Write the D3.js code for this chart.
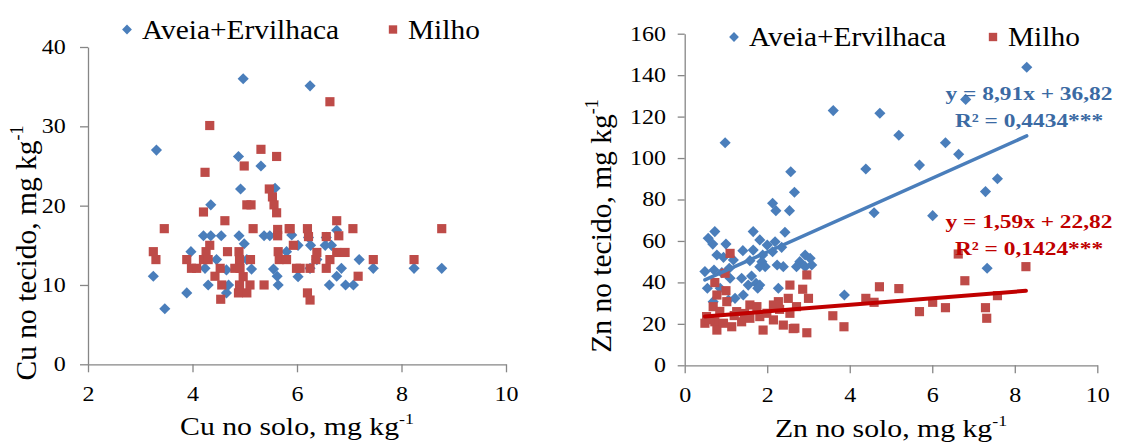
<!DOCTYPE html>
<html>
<head>
<meta charset="utf-8">
<script src="https://cdn.jsdelivr.net/npm/d3@7"></script>
<style>
  body { margin: 0; background: #fff; }
  svg text { font-family: "Liberation Serif", "Times New Roman", serif; }
</style>
</head>
<body>
<svg id="chart" width="1121" height="444"></svg>
<script>
// series names
var seriesNames = ["Aveia+Ervilhaca", "Milho"];

// Cu: [soil, tissue]
var cuAveia = [[3.31,27.0],[3.25,11.1],[3.47,7.0],[3.89,9.0],[3.97,14.2],[4.21,16.2],[4.35,16.2],[4.55,16.2],
  [4.24,12.1],[4.3,10.0],[4.46,13.2],[4.65,11.9],[4.69,10.0],[4.65,9.0],[4.35,20.1],[4.97,36.0],[4.88,26.2],
  [5.31,25.0],[4.92,22.1],[5.58,22.2],[4.89,16.2],[4.99,15.2],[5.04,13.2],[5.13,12.0],[5.37,16.2],[5.48,16.2],
  [5.55,12.0],[5.62,11.1],[5.64,10.0],[5.8,14.2],[5.9,16.3],[6.02,11.05],[6.02,15.0],[6.22,16.0],[6.25,35.1],
  [6.26,15.0],[6.56,16.0],[6.54,15.0],[6.66,15.0],[6.76,16.9],[6.38,13.2],[7.19,13.2],[6.85,12.1],[7.46,12.1],
  [8.24,12.1],[8.77,12.1],[6.76,11.1],[6.62,10.0],[6.93,10.0],[7.08,10.0],[6.25,12.1]];
var cuMilho = [[3.25,14.2],[3.3,13.2],[3.46,17.1],[3.89,13.2],[3.98,12.1],[4.08,12.1],[4.21,13.2],[4.26,14.2],
  [4.3,13.2],[4.33,15.0],[4.21,19.2],[4.24,24.2],[4.33,30.1],[4.43,11.1],[4.53,12.1],[4.56,10.0],[4.54,8.2],
  [4.62,18.1],[4.67,14.2],[4.81,12.1],[4.89,14.2],[4.9,13.2],[4.91,12.1],[4.97,11.05],[4.9,10.0],[4.88,9.0],
  [5.04,9.0],[5.1,10.0],[5.11,13.2],[4.99,25.0],[5.04,20.1],[5.12,20.1],[5.16,17.1],[5.31,27.1],[5.37,10.0],
  [5.47,22.1],[5.53,21.1],[5.56,20.1],[5.61,19.1],[5.61,26.2],[5.63,17.0],[5.63,16.2],[5.64,14.2],[5.66,13.2],
  [5.8,13.2],[5.85,17.1],[5.93,15.0],[5.99,12.1],[5.87,17.1],[6.2,17.1],[6.22,16.1],[6.56,16.1],[6.8,16.2],
  [6.76,18.1],[7.07,17.1],[8.77,17.1],[6.38,14.1],[6.76,14.1],[6.92,14.1],[6.36,13.2],[6.63,13.2],[7.46,13.2],
  [8.24,13.2],[6.06,12.1],[6.25,12.1],[6.56,12.1],[7.17,11.1],[6.2,9.0],[6.25,8.1],[6.63,33.1]];

// Zn: [soil, tissue]
var znAveia = [[0.98,107.4],[3.6,122.9],[4.73,121.6],[5.19,111.0],[6.32,107.4],[6.64,101.8],[4.39,94.7],
  [5.69,96.6],[7.58,90.0],[7.29,83.8],[4.59,73.6],[6.01,72.2],[7.33,46.8],[3.87,33.9],[8.29,143.8],[6.81,128.3],
  [2.57,93.4],[2.66,83.5],[2.13,78.2],[2.21,74.6],[2.54,74.6],[0.73,64.5],[0.57,61.3],[0.68,58.5],[1.66,64.5],
  [2.43,64.2],[1.82,60.5],[2.0,58.0],[2.19,59.6],[2.35,56.9],[1.0,58.5],[0.78,53.2],[0.94,52.1],[1.41,55.3],
  [1.66,55.6],[1.18,50.8],[1.58,50.5],[1.89,53.2],[1.87,50.0],[2.13,54.8],[1.95,47.6],[2.24,48.4],[2.39,47.6],
  [0.49,45.2],[0.71,46.0],[0.9,44.7],[1.08,46.8],[1.1,42.0],[1.38,42.0],[1.62,43.1],[1.73,39.6],[1.54,38.7],
  [1.82,38.7],[1.77,37.2],[2.27,37.2],[1.82,47.6],[0.55,37.2],[0.86,37.2],[1.42,33.9],[1.22,32.3],[0.69,30.7],
  [1.06,31.5],[2.92,53.2],[3.04,51.6],[2.79,50.0],[2.92,47.6],[2.71,47.6],[3.08,48.4]];
var znMilho = [[8.27,47.6],[6.79,40.8],[6.63,53.7],[4.72,37.9],[5.19,37.0],[4.39,32.3],[4.59,30.4],[3.59,23.9],
  [3.86,18.6],[5.69,25.9],[6.01,30.4],[6.32,27.8],[7.29,27.8],[7.32,22.7],[7.58,33.6],[1.1,54.0],[0.98,44.4],
  [0.73,39.9],[0.78,33.9],[1.0,36.0],[1.02,30.7],[0.69,28.3],[2.96,43.6],[2.55,38.7],[2.86,36.7],[3.0,32.3],
  [2.51,32.3],[2.27,30.7],[1.58,29.1],[1.75,28.3],[2.15,29.1],[2.71,28.3],[0.53,23.5],[0.49,20.3],[0.73,21.0],
  [0.78,17.0],[0.94,20.3],[1.14,18.6],[1.38,21.0],[1.58,22.7],[1.82,23.5],[1.99,25.1],[1.9,17.0],[2.15,21.9],
  [2.39,19.4],[2.55,25.1],[2.67,17.9],[2.96,15.7],[1.26,25.9],[2.63,17.7],[0.6,22.0],[1.2,24.0],[2.3,27.0],
  [1.45,25.0],[0.85,26.0]];

// trend lines (slope, intercept) and labels for Zn panel
var znTrendAveia = [8.91, 36.82];
var znTrendMilho = [1.59, 22.82];
var znLabelsAveia = ["y = 8,91x + 36,82", "R² = 0,4434***"];
var znLabelsMilho = ["y = 1,59x + 22,82", "R² = 0,1424***"];

var cuXTicks = [2, 4, 6, 8, 10], cuYTicks = [0, 10, 20, 30, 40];
var znXTicks = [0, 2, 4, 6, 8, 10], znYTicks = [0, 20, 40, 60, 80, 100, 120, 140, 160];

var blue = "#4a7ebb", red = "#be4b48", axisCol = "#868686";
var sx = 1.2; // text in the source is a bit wider than tall
var svg = d3.select("#chart");

var diamond = d3.symbol().type(d3.symbolSquare).size(62);
var square = d3.symbol().type(d3.symbolSquare).size(84);

function panel(o) {
  var x = d3.scaleLinear().domain(o.xDom).range(o.xRange);
  var y = d3.scaleLinear().domain(o.yDom).range(o.yRange);
  var g = svg.append("g");

  var xa = g.append("g").attr("transform", "translate(0," + o.yRange[0] + ")")
    .call(d3.axisBottom(x).tickValues(o.xTicks).tickSize(8).tickPadding(15).tickSizeOuter(0));
  var ya = g.append("g").attr("transform", "translate(" + o.xRange[0] + ",0)")
    .call(d3.axisLeft(y).tickValues(o.yTicks).tickSize(o.yTick).tickPadding(o.yPad).tickSizeOuter(0));
  [xa, ya].forEach(function(a) {
    a.attr("font-family", null);
    a.select(".domain").attr("stroke", axisCol).attr("stroke-width", 1.3);
    a.selectAll(".tick line").attr("stroke", axisCol).attr("stroke-width", 1.3);
    a.selectAll(".tick text").attr("font-size", 20).attr("fill", "#000")
      .attr("transform", "scale(" + sx + ",1)");
  });

  g.append("g").selectAll("path").data(o.a).enter().append("path")
    .attr("d", diamond).attr("fill", blue)
    .attr("transform", function(d) { return "translate(" + x(d[0]) + "," + y(d[1]) + ") rotate(45)"; });
  g.append("g").selectAll("path").data(o.m).enter().append("path")
    .attr("d", square).attr("fill", red)
    .attr("transform", function(d) { return "translate(" + x(d[0]) + "," + y(d[1]) + ")"; });

  if (o.trends) {
    o.trends.forEach(function(t) {
      var ext = d3.extent(t.data, function(d) { return d[0]; });
      g.append("line")
        .attr("x1", x(ext[0])).attr("y1", y(t.coef[0] * ext[0] + t.coef[1]))
        .attr("x2", x(ext[1])).attr("y2", y(t.coef[0] * ext[1] + t.coef[1]))
        .attr("stroke", t.color).attr("stroke-width", t.w).attr("stroke-linecap", "round");
      t.labels.forEach(function(s, i) {
        g.append("text").attr("text-anchor", "middle").attr("font-weight", "bold")
          .attr("font-size", 19.5).attr("fill", t.text)
          .attr("transform", "translate(" + t.lx + "," + (t.ly + i * 27) + ") scale(" + sx + ",1)")
          .text(s);
      });
    });
  }

  // legend
  svg.append("path").attr("d", d3.symbol().type(d3.symbolSquare).size(48))
    .attr("fill", blue).attr("transform", "translate(" + o.leg[0] + "," + o.leg[1] + ") rotate(45)");
  svg.append("text").attr("font-size", 28)
    .attr("transform", "translate(" + (o.leg[0] + 15) + "," + (o.leg[1] + 9) + ") scale(1.05,1)")
    .text(seriesNames[0]);
  svg.append("path").attr("d", d3.symbol().type(d3.symbolSquare).size(70))
    .attr("fill", red).attr("transform", "translate(" + o.leg[2] + "," + o.leg[1] + ")");
  svg.append("text").attr("font-size", 28)
    .attr("transform", "translate(" + (o.leg[2] + 15) + "," + (o.leg[1] + 9) + ") scale(1.05,1)")
    .text(seriesNames[1]);

  // axis titles
  var xt = svg.append("text").attr("text-anchor", "middle").attr("font-size", 25)
    .attr("transform", "translate(" + o.xTitle[0] + "," + o.xTitle[1] + ") scale(1.19,1)");
  xt.append("tspan").text(o.xLabel);
  xt.append("tspan").attr("font-size", 15).attr("dy", -11).text("-1");

  var yt = svg.append("text").attr("text-anchor", "middle").attr("font-size", 29.5)
    .attr("transform", "translate(" + o.yTitle[0] + "," + o.yTitle[1] + ") rotate(-90)");
  yt.append("tspan").text(o.yLabel);
  yt.append("tspan").attr("font-size", 18).attr("dy", -13).text("-1");
}

panel({
  xDom: [2, 10], xRange: [88, 506], yDom: [0, 40], yRange: [364.3, 47],
  xTicks: cuXTicks, yTicks: cuYTicks, a: cuAveia, m: cuMilho, yTick: 8, yPad: 10.5,
  leg: [127, 29.5, 393],
  xLabel: "Cu no solo, mg kg", xTitle: [297, 435],
  yLabel: "Cu no tecido, mg kg", yTitle: [36, 253]
});

panel({
  xDom: [0, 10], xRange: [684.7, 1097.3], yDom: [0, 160], yRange: [365.3, 33.7],
  xTicks: znXTicks, yTicks: znYTicks, a: znAveia, m: znMilho, yTick: 7, yPad: 8.5,
  leg: [734, 37, 993],
  xLabel: "Zn no solo, mg kg", xTitle: [891, 437],
  yLabel: "Zn no tecido, mg kg", yTitle: [611, 226],
  trends: [
    { data: znAveia, coef: znTrendAveia, color: "#4a7ebb", text: "#3b6aa3", w: 3.5,
      labels: znLabelsAveia, lx: 1029, ly: 100 },
    { data: znMilho, coef: znTrendMilho, color: "#c00000", text: "#c00000", w: 4,
      labels: znLabelsMilho, lx: 1029, ly: 228 }
  ]
});
</script>
</body>
</html>
